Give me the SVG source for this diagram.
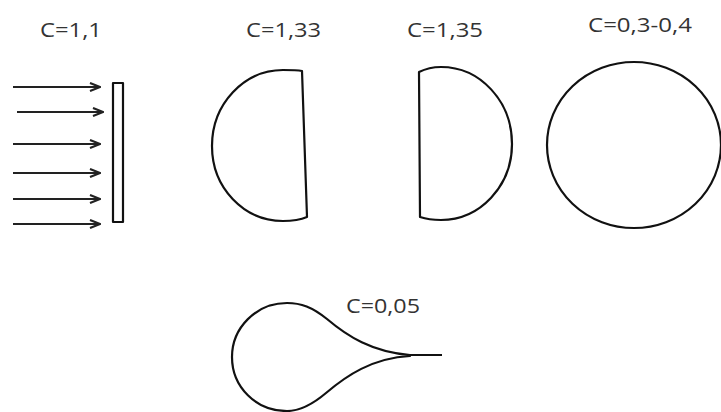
<svg xmlns="http://www.w3.org/2000/svg" width="721" height="412" viewBox="0 0 721 412">
<style>
.s{fill:none;stroke:#111;stroke-width:2.2;stroke-linejoin:round}
.a{fill:none;stroke:#222;stroke-width:2.2}
.t{font-family:"Open Sans","Liberation Sans",sans-serif;font-size:20px;fill:#333}
</style>
<defs>
<marker id="ah" viewBox="0 0 12 10" refX="11" refY="5" markerWidth="12" markerHeight="10" markerUnits="userSpaceOnUse" orient="auto">
<path d="M1,1 L11,5 L1,9" fill="none" stroke="#222" stroke-width="2.2"/>
</marker>
</defs>
<g id="plate">
<text class="t" x="40" y="37" textLength="62" lengthAdjust="spacingAndGlyphs">C=1,1</text>
<rect class="s" x="113" y="83" width="10" height="139" stroke-width="1.6"/>
</g>
<g id="connectors">
<line class="a" x1="13" y1="87" x2="100" y2="87" marker-end="url(#ah)"/>
<line class="a" x1="17" y1="112" x2="103" y2="112" marker-end="url(#ah)"/>
<line class="a" x1="13" y1="144" x2="100" y2="144" marker-end="url(#ah)"/>
<line class="a" x1="13" y1="173" x2="100" y2="173" marker-end="url(#ah)"/>
<line class="a" x1="13" y1="199" x2="100" y2="199" marker-end="url(#ah)"/>
<line class="a" x1="13" y1="224" x2="100" y2="224" marker-end="url(#ah)"/>
</g>
<g id="half-left">
<text class="t" x="246" y="37" textLength="75" lengthAdjust="spacingAndGlyphs">C=1,33</text>
<path class="s" d="M302,71 L307,217 C300,220 291,221 283,221 C244,221 212,188 212,146 C212,104 244,70 283,70 C291,70 297,70 302,71 Z"/>
</g>
<g id="half-right">
<text class="t" x="407" y="37" textLength="76" lengthAdjust="spacingAndGlyphs">C=1,35</text>
<path class="s" d="M419,72 L420,217 C426,219 433,220 441,220 C480,220 512,186 512,144 C512,101 480,67 441,67 C433,67 425,69 419,72 Z"/>
</g>
<g id="sphere">
<text class="t" x="588" y="32" textLength="104" lengthAdjust="spacingAndGlyphs">C=0,3-0,4</text>
<ellipse class="s" cx="634" cy="145" rx="87" ry="83"/>
</g>
<g id="teardrop">
<text class="t" x="346" y="313" textLength="74" lengthAdjust="spacingAndGlyphs">C=0,05</text>
<path class="s" d="M410,355 C372,352 347,336 327,319 C312,307 301,303 287,303 C256,303 232,328 232,357 C232,387 256,411 287,411 C301,411 313,404 326,393 C346,376 372,358 410,356 Z M410,355 L442,355"/>
</g>
</svg>
